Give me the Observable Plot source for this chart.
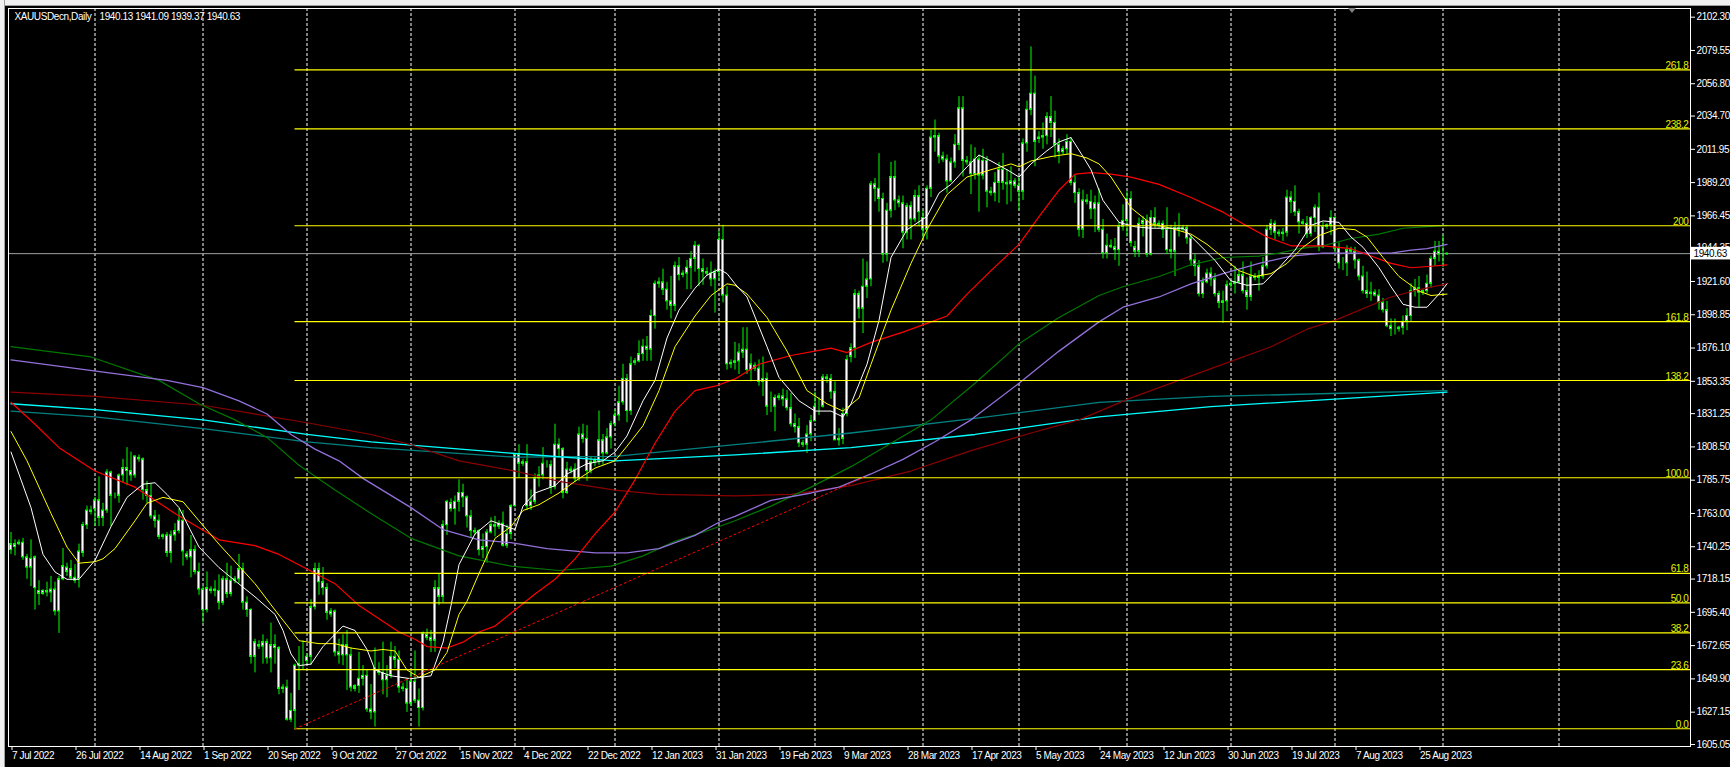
<!DOCTYPE html>
<html><head><meta charset="utf-8">
<script src="https://cdn.jsdelivr.net/npm/d3@7"></script>
<script src="https://cdn.jsdelivr.net/npm/@observablehq/plot@0.6"></script>
<style>
html,body{margin:0;padding:0;background:#000;}
#wrap{position:relative;width:1730px;height:767px;overflow:hidden;background:#000;}
#wrap svg{position:absolute;left:0;top:0;}
#topbar{position:absolute;left:0;top:0;width:1730px;height:5px;background:#f0f0f0;border-bottom:1px solid #a0a0a0;}
#leftbar{position:absolute;left:0;top:0;width:4px;height:767px;background:#f0f0f0;border-right:1px solid #a0a0a0;}
#shift{position:absolute;left:1348px;top:8px;width:0;height:0;border-left:4px solid transparent;border-right:4px solid transparent;border-top:5px solid #808080;}
</style></head><body><div id="wrap"></div>
<script>
// ---------- DATA ----------
const titleSymbol = "XAUUSDecn,Daily";
const titleOHLC = "1940.13 1941.09 1939.37 1940.63";
const lastPrice = 1940.63;

const opens = [
1738,1740,1742,1743,1733,1726,1733,1710,1708,1710, 1709,1711,1696,1718,1726,1725,1719,1718,1736,1755,
1765,1766,1772,1760,1765,1791,1775,1775,1789,1794, 1792,1789,1801,1800,1779,1775,1761,1758,1747,1748,
1736,1748,1751,1758,1735,1733,1738,1723,1711,1697, 1710,1711,1710,1702,1718,1708,1717,1718,1725,1702,
1697,1665,1673,1672,1675,1664,1673,1671,1643,1644, 1622,1628,1659,1660,1662,1665,1699,1725,1716,1712,
1694,1696,1668,1666,1673,1666,1643,1645,1650,1652, 1629,1627,1656,1654,1649,1652,1665,1663,1644,1643,
1633,1648,1635,1630,1680,1678,1676,1712,1706,1755, 1770,1766,1771,1777,1774,1761,1750,1751,1738,1740,
1750,1755,1754,1756,1741,1749,1768,1803,1797,1798, 1768,1771,1787,1789,1796,1796,1781,1810,1807,1777,
1792,1793,1787,1817,1814,1792,1798,1799,1813,1804, 1815,1824,1830,1839,1855,1833,1866,1867,1872,1877,
1875,1898,1920,1921,1916,1908,1905,1932,1926,1927, 1931,1937,1946,1930,1928,1927,1923,1928,1950,1912,
1865,1866,1867,1873,1875,1861,1864,1862,1853,1855, 1836,1836,1842,1843,1841,1835,1824,1822,1811,1810,
1817,1826,1836,1836,1856,1855,1846,1813,1814,1831, 1870,1876,1913,1903,1918,1923,1988,1985,1978,1940,
1970,1993,1977,1975,1955,1973,1964,1980,1965,1957, 1985,2020,2021,2007,2005,1990,2003,2015,2040,2004,
2003,1995,2005,1994,2004,1983,1982,1989,1998,1989, 1988,1990,1987,1983,2016,2039,2050,2019,2020,2021,
2034,2030,2015,2010,2012,2017,1989,1982,1957,1977, 1976,1971,1975,1957,1941,1946,1945,1943,1959,1963,
1978,1945,1942,1961,1963,1940,1965,1960,1961,1957, 1943,1942,1958,1957,1958,1951,1936,1932,1913,1921,
1927,1923,1913,1907,1908,1919,1920,1921,1926,1915, 1911,1925,1924,1925,1932,1957,1961,1955,1954,1955,
1979,1976,1969,1962,1961,1954,1965,1972,1945,1959, 1960,1965,1944,1934,1934,1943,1942,1936,1925,1915,
1913,1914,1912,1907,1902,1891,1889,1889,1890,1894, 1898,1915,1917,1914,1915,1920,1937,1942,1940,1940.13];

const highs = [
1750,1745,1745,1746,1735,1745,1734,1717,1711,1716, 1720,1716,1720,1739,1729,1731,1728,1742,1757,1768,
1768,1774,1788,1770,1793,1792,1777,1790,1800,1808, 1805,1802,1803,1801,1785,1783,1765,1762,1749,1750,
1751,1756,1766,1765,1737,1748,1741,1729,1713,1723, 1713,1717,1721,1720,1729,1727,1720,1735,1729,1706,
1698,1677,1676,1680,1677,1688,1680,1672,1646,1649, 1640,1660,1672,1676,1667,1704,1729,1729,1726,1715,
1698,1697,1677,1680,1683,1671,1646,1668,1659,1656, 1646,1671,1661,1675,1659,1675,1672,1669,1647,1650,
1655,1669,1643,1682,1684,1683,1717,1722,1758,1772, 1773,1775,1786,1783,1775,1765,1753,1752,1749,1752,
1760,1761,1758,1764,1755,1769,1804,1810,1800,1810, 1779,1790,1795,1808,1799,1799,1824,1814,1808,1798,
1795,1797,1822,1824,1823,1802,1801,1833,1817,1821, 1826,1834,1850,1865,1858,1870,1869,1881,1882,1884,
1902,1922,1924,1930,1921,1925,1935,1938,1929,1936, 1942,1949,1947,1937,1931,1935,1930,1956,1960,1918,
1868,1880,1879,1890,1890,1872,1866,1868,1870,1859, 1846,1844,1845,1848,1847,1845,1831,1828,1813,1823,
1830,1846,1842,1858,1858,1858,1853,1821,1835,1871, 1879,1916,1915,1937,1935,1990,1992,2009,1982,1975,
2003,2004,1980,1980,1975,1976,1984,1987,1970,1987, 2025,2032,2023,2010,2008,2006,2022,2048,2048,2007,
2015,2013,2008,2012,2007,1986,1996,2003,2009,1998, 2000,1992,1993,2019,2045,2082,2062,2024,2030,2037,
2048,2038,2019,2014,2022,2020,1994,1985,1984,1981, 1984,1980,1985,1964,1954,1950,1951,1962,1974,1983,
1983,1949,1965,1966,1967,1970,1972,1963,1963,1972, 1960,1962,1968,1960,1960,1953,1940,1936,1924,1930,
1931,1927,1915,1915,1922,1922,1932,1929,1935,1924, 1935,1927,1929,1938,1960,1964,1963,1957,1958,1984,
1983,1987,1971,1964,1966,1966,1974,1982,1962,1961, 1970,1966,1948,1938,1946,1945,1945,1937,1932,1928,
1921,1916,1916,1910,1908,1896,1896,1891,1898,1903, 1920,1923,1925,1916,1926,1939,1949,1949,1953,1941.09];

const lows = [
1735,1734,1741,1731,1718,1713,1697,1700,1707,1706, 1702,1693,1681,1717,1720,1717,1715,1712,1733,1752,
1762,1754,1754,1754,1763,1754,1773,1770,1784,1782, 1785,1787,1798,1772,1770,1759,1753,1745,1745,1733,
1729,1744,1749,1727,1731,1719,1721,1707,1688,1695, 1708,1706,1697,1700,1705,1706,1715,1715,1697,1692,
1660,1654,1670,1660,1660,1654,1660,1639,1640,1621, 1620,1615,1642,1656,1660,1659,1697,1707,1707,1690,
1692,1665,1660,1659,1642,1641,1641,1640,1645,1627, 1622,1617,1652,1639,1637,1650,1657,1640,1641,1627,
1631,1633,1617,1628,1676,1668,1668,1700,1702,1748, 1764,1755,1764,1767,1753,1746,1748,1734,1732,1729,
1749,1747,1752,1740,1739,1745,1767,1787,1795,1765, 1765,1769,1781,1786,1794,1776,1779,1801,1773,1776,
1790,1784,1785,1811,1785,1790,1795,1796,1796,1803, 1807,1822,1826,1837,1825,1830,1864,1866,1867,1867,
1867,1889,1917,1912,1902,1896,1901,1922,1924,1916, 1916,1928,1918,1919,1925,1918,1900,1922,1907,1861,
1862,1861,1858,1869,1858,1853,1860,1850,1843,1830, 1832,1819,1840,1836,1833,1822,1818,1808,1808,1804,
1812,1826,1830,1835,1852,1841,1813,1809,1810,1829, 1866,1869,1896,1886,1910,1918,1976,1969,1934,1935,
1965,1970,1972,1944,1950,1950,1962,1959,1951,1950, 1979,2010,2002,2003,1982,1989,1999,2011,1993,2001,
1981,1991,1969,1991,1972,1980,1976,1975,1984,1974, 1976,1985,1970,1977,2010,2035,2000,2016,2012,2015,
2020,2006,2002,2008,2008,1987,1975,1952,1951,1974, 1964,1955,1955,1937,1937,1944,1936,1932,1956,1952,
1945,1938,1938,1952,1938,1939,1958,1958,1951,1940, 1937,1925,1952,1955,1947,1932,1925,1911,1910,1920,
1918,1911,1903,1893,1901,1917,1913,1920,1913,1902, 1908,1922,1915,1923,1930,1953,1950,1952,1949,1952,
1968,1966,1954,1960,1951,1952,1955,1942,1944,1957, 1953,1941,1930,1929,1925,1940,1930,1922,1913,1910,
1908,1911,1902,1900,1890,1884,1885,1887,1885,1888, 1894,1911,1904,1912,1913,1917,1932,1935,1931,1939.37];

const closes = [
1742,1742,1743,1733,1726,1732,1712,1708,1710,1709, 1711,1696,1718,1727,1723,1719,1717,1737,1755,1765,
1764,1772,1760,1765,1791,1775,1775,1789,1794,1792, 1789,1802,1800,1779,1775,1761,1758,1747,1748,1736,
1748,1751,1758,1737,1733,1738,1723,1711,1697,1712, 1711,1710,1702,1718,1708,1717,1718,1725,1702,1697,
1665,1675,1672,1675,1664,1673,1671,1643,1644,1622, 1628,1659,1660,1660,1665,1699,1725,1716,1712,1695,
1696,1668,1666,1673,1666,1644,1645,1650,1652,1629, 1627,1657,1654,1649,1652,1665,1663,1644,1643,1633,
1648,1635,1630,1681,1678,1676,1712,1706,1755,1771, 1766,1771,1777,1774,1761,1751,1751,1738,1740,1750,
1755,1754,1756,1741,1749,1768,1803,1797,1798,1768, 1771,1787,1789,1797,1796,1781,1810,1807,1777,1793,
1793,1787,1817,1814,1792,1798,1799,1813,1804,1815, 1824,1830,1839,1855,1833,1865,1867,1872,1877,1875,
1898,1920,1921,1916,1908,1905,1932,1926,1927,1931, 1937,1946,1930,1928,1927,1923,1928,1950,1912,1865,
1866,1867,1873,1875,1861,1865,1862,1853,1855,1836, 1836,1842,1843,1841,1835,1824,1822,1811,1810,1817,
1826,1836,1836,1856,1855,1846,1813,1814,1831,1868, 1876,1913,1903,1918,1923,1988,1985,1978,1940,1970,
1993,1977,1975,1955,1973,1964,1980,1969,1957,1985, 2020,2021,2007,2005,1990,2003,2015,2040,2004,2003,
1995,2005,1994,2004,1983,1982,1989,1998,1989,1988, 1990,1987,1983,2016,2039,2050,2017,2020,2021,2034,
2030,2015,2010,2012,2017,1989,1982,1957,1977,1976, 1971,1975,1957,1941,1946,1945,1943,1959,1963,1978,
1948,1942,1961,1963,1940,1965,1961,1961,1957,1943, 1942,1958,1957,1958,1951,1936,1932,1913,1921,1927,
1923,1913,1907,1908,1919,1920,1921,1926,1915,1911, 1925,1924,1925,1932,1957,1961,1955,1954,1955,1979,
1976,1969,1962,1961,1954,1965,1972,1945,1959,1960, 1965,1944,1934,1934,1943,1942,1936,1925,1915,1913,
1914,1912,1907,1902,1891,1889,1889,1890,1894,1898, 1915,1917,1914,1915,1920,1937,1942,1940,1940,1940.63];

// moving averages: [bar, price]
const maWhite = [[0,1805],[5,1767],[8,1735],[11,1723],[14,1718],[17,1718],[21,1731],[25,1754],[29,1774],[33,1783],[36,1784],[39,1776],[42,1767],[47,1740],[52,1726],[56,1717],[61,1706],[66,1694],[68,1683],[70,1667],[72,1659],[75,1660],[78,1672],[83,1686],[86,1683],[89,1670],[91,1656],[95,1652],[100,1650],[105,1652],[108,1675],[110,1700],[112,1728],[116,1749],[120,1758],[122,1756],[126,1752],[128,1768],[131,1777],[136,1782],[139,1790],[144,1797],[148,1799],[151,1805],[154,1816],[158,1840],[161,1854],[164,1883],[167,1902],[171,1917],[174,1926],[177,1930],[179,1927],[181,1920],[184,1911],[189,1877],[192,1856],[197,1840],[201,1833],[205,1833],[208,1829],[210,1838],[214,1865],[217,1895],[220,1938],[224,1957],[229,1966],[232,1982],[235,1988],[239,2000],[242,2008],[245,2004],[249,1998],[252,1993],[255,2002],[259,2011],[262,2017],[265,2020],[268,2007],[270,1998],[273,1977],[277,1962],[281,1959],[285,1958],[289,1958],[293,1958],[297,1947],[301,1936],[305,1922],[309,1919],[313,1920],[317,1931],[321,1943],[325,1960],[328,1963],[332,1962],[335,1952],[338,1945],[342,1931],[345,1918],[348,1906],[351,1904],[354,1904],[357,1913],[359,1920]];
const maYellow = [[0,1819],[4,1799],[10,1763],[14,1740],[17,1729],[21,1730],[23,1732],[26,1739],[31,1758],[34,1770],[38,1774],[43,1771],[47,1758],[52,1742],[56,1730],[61,1715],[66,1697],[68,1690],[72,1676],[77,1674],[81,1674],[85,1671],[90,1669],[93,1670],[96,1669],[99,1656],[102,1651],[106,1656],[109,1668],[112,1694],[114,1703],[117,1722],[121,1746],[125,1754],[128,1765],[132,1769],[137,1777],[141,1785],[146,1794],[151,1799],[154,1809],[158,1823],[162,1847],[166,1877],[171,1898],[175,1912],[179,1920],[181,1919],[184,1913],[189,1897],[194,1874],[199,1847],[204,1838],[208,1833],[212,1842],[215,1865],[220,1902],[225,1934],[229,1957],[234,1981],[239,1993],[245,1998],[250,2002],[252,2000],[255,2004],[260,2007],[265,2009],[269,2006],[272,2002],[275,1993],[280,1972],[285,1961],[290,1958],[295,1954],[299,1947],[303,1938],[307,1929],[311,1925],[315,1927],[319,1934],[323,1945],[327,1953],[332,1958],[336,1957],[339,1952],[343,1938],[347,1925],[352,1915],[355,1912],[359,1913]];
const maRed = [[0,1839],[6,1824],[12,1808],[21,1792],[31,1781],[41,1763],[52,1745],[61,1741],[67,1735],[74,1725],[81,1715],[87,1700],[92,1691],[97,1682],[101,1677],[104,1672],[109,1671],[113,1675],[117,1682],[121,1686],[126,1697],[131,1708],[136,1718],[141,1732],[146,1749],[151,1764],[156,1786],[161,1811],[166,1833],[171,1847],[176,1850],[181,1855],[187,1865],[195,1871],[205,1876],[209,1873],[215,1880],[223,1887],[229,1893],[234,1898],[239,1913],[245,1929],[252,1947],[257,1966],[262,1984],[266,1995],[270,1996],[275,1995],[280,1993],[287,1988],[295,1979],[303,1969],[308,1961],[314,1952],[320,1946],[328,1946],[335,1944],[340,1939],[345,1934],[350,1931],[355,1932],[359,1933]];
const maMaroon = [[0,1846],[21,1843],[48,1837],[74,1825],[90,1817],[100,1810],[112,1799],[126,1792],[137,1785],[151,1779],[162,1776],[181,1775],[195,1776],[210,1782],[225,1792],[240,1806],[255,1818],[267,1827],[280,1842],[300,1862],[315,1877],[324,1889],[331,1895],[345,1911],[352,1916],[359,1920]];
const maPurple = [[0,1868],[25,1859],[39,1854],[48,1849],[57,1840],[64,1831],[70,1817],[76,1807],[82,1799],[88,1787],[100,1767],[108,1752],[117,1745],[125,1743],[134,1739],[146,1736],[154,1736],[162,1739],[171,1748],[177,1757],[181,1761],[190,1772],[200,1777],[207,1781],[215,1790],[223,1800],[231,1812],[240,1827],[252,1852],[262,1874],[272,1894],[278,1904],[287,1911],[295,1920],[303,1927],[312,1934],[320,1939],[328,1941],[336,1941],[345,1941],[350,1943],[354,1944],[359,1947]];
const maGreen = [[0,1877],[20,1870],[37,1854],[47,1838],[56,1827],[64,1815],[72,1796],[81,1779],[90,1763],[100,1746],[112,1734],[125,1727],[137,1724],[150,1727],[158,1734],[166,1744],[175,1752],[181,1758],[190,1768],[200,1781],[210,1795],[220,1811],[230,1827],[241,1852],[252,1879],[262,1897],[272,1912],[278,1918],[287,1925],[295,1933],[303,1938],[312,1939],[317,1941],[322,1944],[328,1946],[335,1951],[342,1954],[348,1958],[353,1959],[359,1960]];
const maCyan = [[0,1838],[21,1834],[48,1827],[74,1817],[90,1812],[126,1804],[151,1799],[181,1803],[210,1808],[241,1817],[272,1829],[300,1836],[330,1841],[359,1846]];
const maTeal = [[0,1833],[21,1829],[48,1821],[74,1812],[90,1808],[126,1801.5],[151,1802],[181,1810],[210,1818],[241,1828],[272,1839],[300,1843],[330,1845],[359,1847]];

// Fibonacci retracement
const fibLabels = ["0.0","23.6","38.2","50.0","61.8","100.0","138.2","161.8","200","238.2","261.8"];
const fibPrices = [1615.8,1656.3,1681.4,1701.9,1722.0,1787.4,1853.9,1894.2,1959.7,2026.0,2066.3];
const fibStartBar = 71;
const trendLine = [[71,1615.8],[213,1787.4]];

// month separators (bar index of first bar of month)
const monthStartBars = [21,48,74,100,126,151,177,201,228,252,279,305,331,358,387];

// axis tick labels
const dateLabels = ["7 Jul 2022","26 Jul 2022","14 Aug 2022","1 Sep 2022","20 Sep 2022","9 Oct 2022","27 Oct 2022","15 Nov 2022","4 Dec 2022","22 Dec 2022","12 Jan 2023","31 Jan 2023","19 Feb 2023","9 Mar 2023","28 Mar 2023","17 Apr 2023","5 May 2023","24 May 2023","12 Jun 2023","30 Jun 2023","19 Jul 2023","7 Aug 2023","25 Aug 2023"];
const dateLabelBars = [0,16,32,48,64,80,96,112,128,144,160,176,192,208,224,240,256,272,288,304,320,336,352];
const priceTicks = [2102.30,2079.55,2056.80,2034.70,2011.95,1989.20,1966.45,1944.35,1921.60,1898.85,1876.10,1853.35,1831.25,1808.50,1785.75,1763.00,1740.25,1718.15,1695.40,1672.65,1649.90,1627.15,1605.05];

// ---------- CHART ----------
const X0 = -0.625, X1 = 419.875;
const candles = closes.map((c, i) => ({b: i, o: opens[i], h: highs[i], l: lows[i], c}));
const pts = a => a.map(([b, p]) => ({b, p}));
const maLine = (arr, stroke, w) => Plot.line(pts(arr), {x: "b", y: "p", stroke, strokeWidth: w || 1});
const fibs = fibLabels.map((label, i) => ({label, p: fibPrices[i]}));

const chart = Plot.plot({
  width: 1730, height: 767,
  marginLeft: 8, marginRight: 40, marginTop: 8, marginBottom: 21,
  style: {background: "transparent", color: "#fff", fontFamily: "'Liberation Sans', Arial, sans-serif", fontSize: "10px", letterSpacing: "-0.4px", overflow: "visible"},
  x: {domain: [X0, X1], axis: null, label: null},
  y: {domain: [1603.68, 2108.23], axis: null, label: null},
  marks: [
    Plot.ruleX(monthStartBars, {stroke: "#fff", strokeDasharray: "3,2", strokeWidth: 1}),
    Plot.ruleY([lastPrice], {stroke: "#a0a0a0"}),
    Plot.ruleX(candles, {x: "b", y1: "l", y2: "h", stroke: "#00ff00"}),
    Plot.rect(candles, {x1: d => d.b - 0.25, x2: d => d.b + 0.25, y1: "o", y2: "c", fill: "#fff", stroke: "#00ff00", strokeWidth: 1}),
    maLine(maTeal, "#008080", 1.3),
    maLine(maCyan, "#00ffff", 1.3),
    maLine(maMaroon, "#8b0000", 1.2),
    maLine(maGreen, "#007800", 1.2),
    maLine(maPurple, "#9370db", 1.3),
    maLine(maRed, "#ff0000", 1.2),
    maLine(maYellow, "#ffff00", 1),
    maLine(maWhite, "#ffffff", 1),
    Plot.ruleY(fibs, {y: "p", x1: fibStartBar, x2: X1, stroke: "#ffff00", strokeWidth: 1.2}),
    Plot.text(fibs, {x: X1, y: "p", text: "label", textAnchor: "end", lineAnchor: "bottom", dx: -2, dy: -1, fill: "#e8f000"}),
    Plot.line(pts(trendLine), {x: "b", y: "p", stroke: "#ff0000", strokeDasharray: "2,3", strokeWidth: 1}),
    Plot.frame({stroke: "#fff"}),
    Plot.axisY(priceTicks, {anchor: "right", label: null, tickSize: 4, tickPadding: 2, tickFormat: d => d.toFixed(2), stroke: "#fff", fill: "#fff"}),
    Plot.axisX(dateLabelBars, {anchor: "bottom", label: null, tickSize: 4, tickPadding: 1, tickFormat: d => dateLabels[dateLabelBars.indexOf(d)], textAnchor: "start", dx: 1, stroke: "#fff", fill: "#fff"}),
    Plot.rect([lastPrice], {x1: X1 + 0.25, x2: X1 + 11, y1: d => d - 4.3, y2: d => d + 4.3, fill: "#fff"}),
    Plot.text([lastPrice], {x: X1, y: d => d, text: d => d.toFixed(2), textAnchor: "start", dx: 3, fill: "#000"}),
    Plot.text([titleSymbol], {frameAnchor: "top-left", dx: 6, dy: 4, lineAnchor: "top", fill: "#fff"}),
    Plot.text([titleOHLC], {frameAnchor: "top-left", dx: 91, dy: 4, lineAnchor: "top", fill: "#fff"})
  ]
});
const wrap = document.getElementById("wrap");
wrap.appendChild(chart);
for (const id of ["topbar", "leftbar", "shift"]) {
  const d = document.createElement("div"); d.id = id; wrap.appendChild(d);
}
</script></body></html>
